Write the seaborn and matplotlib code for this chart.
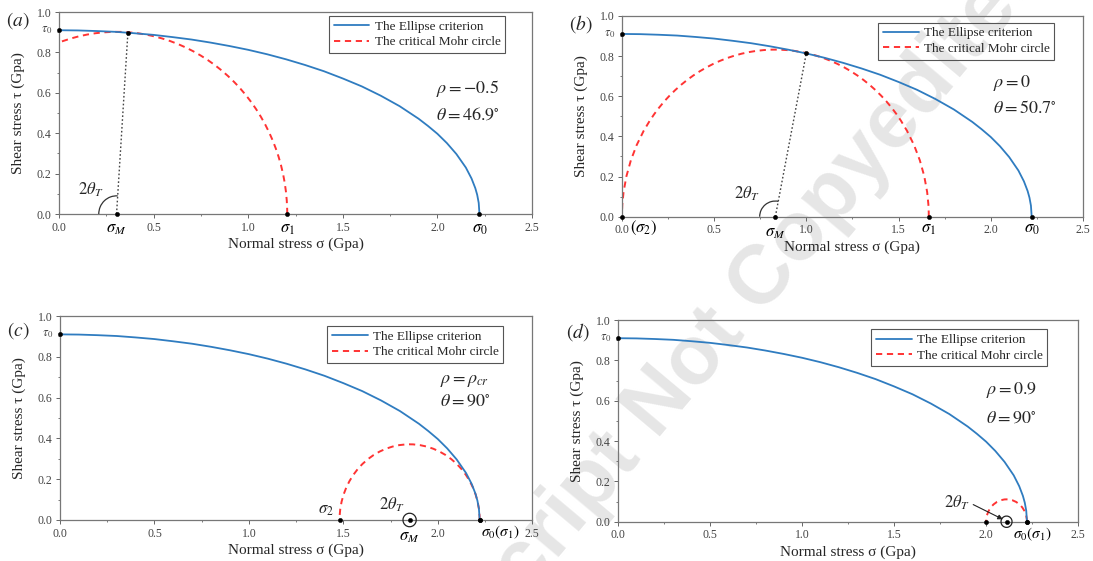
import numpy as np
import matplotlib
matplotlib.use("Agg")
import matplotlib.pyplot as plt
import seaborn as sns
from matplotlib.patches import Arc
from matplotlib.lines import Line2D

# ---------------- data ----------------
# Ellipse criterion (same curve in every panel)
ellipse_sigma = [0.0, 0.1, 0.2, 0.3, 0.4, 0.5, 0.6, 0.7, 0.8, 0.9, 1.0, 1.1, 1.2, 1.3,
                 1.4, 1.5, 1.6, 1.7, 1.8, 1.9, 1.95, 2.0, 2.05, 2.1, 2.15, 2.18, 2.2,
                 2.21, 2.218, 2.222]
ellipse_tau = [0.910, 0.909, 0.906, 0.902, 0.895, 0.887, 0.876, 0.864, 0.849, 0.832,
               0.813, 0.791, 0.766, 0.738, 0.707, 0.671, 0.632, 0.586, 0.534, 0.472,
               0.436, 0.397, 0.351, 0.297, 0.230, 0.176, 0.128, 0.095, 0.055, 0.0]
sigma0 = 2.222
tau0 = 0.91

panel_tags = [r"$(a)$", r"$(b)$", r"$(c)$", r"$(d)$"]
rho_texts = [r"$\rho = -0.5$", r"$\rho = 0$", r"$\rho = \rho_{cr}$", r"$\rho = 0.9$"]
theta_texts = [r"$\theta = 46.9^{\circ}$", r"$\theta = 50.7^{\circ}$",
               r"$\theta = 90^{\circ}$", r"$\theta = 90^{\circ}$"]

# critical Mohr circles: principal stresses
mohr_sigma1 = [1.206, 1.664, 2.222, 2.222]
mohr_sigma2 = [-0.598, 0.0, 1.48, 2.0]
# tangent points (panels a, b)
tangent_sigma = [0.364, 1.0, None, None]
tangent_tau = [0.898, 0.815, None, None]

x_ticks = [0.0, 0.5, 1.0, 1.5, 2.0, 2.5]
y_ticks = [0.0, 0.2, 0.4, 0.6, 0.8, 1.0]
legend_labels = ["The Ellipse criterion", "The critical Mohr circle"]
watermark = "Accepted Manuscript Not Copyedited"

BLUE = "#2f7cc0"
RED = "#ff3333"

# ---------------- style ----------------
sns.set_style("ticks")
plt.rcParams["font.family"] = ["Liberation Serif", "DejaVu Serif"]
plt.rcParams["mathtext.fontset"] = "stix"
plt.rcParams["axes.facecolor"] = "none"

fig = plt.figure(figsize=(10.93, 5.61), dpi=100)
fig.patch.set_facecolor("white")

positions = [
    [0.054, 0.6185, 0.4328, 0.360],
    [0.569, 0.6137, 0.4218, 0.358],
    [0.0549, 0.0731, 0.432, 0.3636],
    [0.5654, 0.070, 0.421, 0.3595],
]
legend_anchor = [(0.943, 0.98), (0.938, 0.967), (0.939, 0.951), (0.933, 0.954)]
text_pos = [(1.99, 0.62, 0.49), (2.01, 0.667, 0.54), (2.01, 0.683, 0.585), (2.0, 0.655, 0.514)]
tag_y = [0.96, 0.958, 0.93, 0.94]

# watermark
fig.text(0.512, 0.0695, watermark, rotation=50,
         rotation_mode="anchor", ha="center", va="center", fontsize=60,
         fontweight="bold", color="#e6e6e6", family="Liberation Sans", zorder=-10)


def below(ax, label, x, size=12, dy=-11):
    ax.annotate(label, xy=(x, 0), xycoords=("data", "axes fraction"),
                xytext=(0, dy), textcoords="offset points", ha="center",
                va="center", fontsize=size, color="black", annotation_clip=False)


for i, pos in enumerate(positions):
    ax = fig.add_axes(pos)
    ax.set_facecolor("none")
    # ellipse criterion
    sns.lineplot(x=ellipse_sigma, y=ellipse_tau, ax=ax, color=BLUE, lw=1.3,
                 sort=False, estimator=None, zorder=3)
    # critical Mohr circle
    s1, s2 = mohr_sigma1[i], mohr_sigma2[i]
    c, r = (s1 + s2) / 2, (s1 - s2) / 2
    ax.add_patch(Arc((c, 0), 2 * r, 2 * r, theta1=0, theta2=180, color=RED,
                     lw=1.4, linestyle=(0, (3.2, 2.4)), zorder=2))

    pts_x = [0.0, c, s1, sigma0]
    pts_y = [tau0, 0, 0, 0]
    if s2 >= 0:
        pts_x.append(s2)
        pts_y.append(0)
    if tangent_sigma[i] is not None:
        ts, tt = tangent_sigma[i], tangent_tau[i]
        ax.plot([c, ts], [0, tt], ls=(0, (1.2, 1.6)), color="#444444", lw=1.0, zorder=2)
        pts_x.append(ts)
        pts_y.append(tt)
        ang = np.degrees(np.arctan2(tt, ts - c))
        rx, ry = (0.094, 0.09) if i == 0 else (0.085, 0.078)
        ax.add_patch(Arc((c, 0), 2 * rx, 2 * ry, theta1=ang, theta2=180,
                         color="#333333", lw=0.9, zorder=4))
    sns.scatterplot(x=pts_x, y=pts_y, ax=ax, color="black", s=10, zorder=6,
                    clip_on=False, legend=False, edgecolor=None)

    ax.set_xlim(0, 2.5)
    ax.set_ylim(0, 1.0)
    ax.set_xticks(x_ticks)
    ax.set_yticks(y_ticks)
    ax.set_xticks(np.array(x_ticks[:-1]) + 0.25, minor=True)
    ax.set_yticks(np.array(y_ticks[:-1]) + 0.1, minor=True)
    ax.set_xticklabels([f"{v:.1f}" for v in x_ticks])
    ax.set_yticklabels([f"{v:.1f}" for v in y_ticks])
    ax.tick_params(which="major", direction="out", length=3, width=0.7,
                   color="#666666", labelsize=8.5, labelcolor="#444444", pad=2.5)
    ax.tick_params(which="minor", direction="out", length=1.6, width=0.6, color="#666666")
    ax.tick_params(top=False, right=False, which="both")
    for sp in ax.spines.values():
        sp.set_visible(True)
        sp.set_color("#777777")
        sp.set_linewidth(0.9)

    ax.set_xlabel("Normal stress σ (Gpa)", fontsize=11, labelpad=3)
    ax.set_ylabel("Shear stress τ (Gpa)", fontsize=11, labelpad=8)

    # tau0 marker label
    ax.annotate(r"$\tau_0$", xy=(0, tau0), xycoords="data", xytext=(-5, 0),
                textcoords="offset points", ha="right", va="center", fontsize=9,
                color="#444444", annotation_clip=False)
    # panel tag
    ax.text(-0.088, tag_y[i], panel_tags[i], transform=ax.transAxes, fontsize=14,
            ha="center", va="center")
    # rho / theta text
    tx, ry1, ry2 = text_pos[i]
    ax.text(tx, ry1, rho_texts[i], fontsize=13, ha="left", va="center")
    ax.text(tx, ry2, theta_texts[i], fontsize=13, ha="left", va="center")

    # stress labels on the axis
    if i == 0:
        below(ax, r"$\sigma_M$", c)
        below(ax, r"$\sigma_1$", s1)
        below(ax, r"$\sigma_0$", sigma0)
        ax.text(0.17, 0.118, r"$2\theta_T$", fontsize=12, ha="center", va="center")
    elif i == 1:
        below(ax, r"$(\sigma_2)$", 0.12, dy=-8)
        below(ax, r"$\sigma_M$", c, dy=-12)
        below(ax, r"$\sigma_1$", s1, dy=-9)
        below(ax, r"$\sigma_0$", sigma0, dy=-9)
        ax.text(0.68, 0.112, r"$2\theta_T$", fontsize=12, ha="center", va="center")
    elif i == 2:
        ax.text(s2 - 0.07, 0.05, r"$\sigma_2$", fontsize=12, ha="center", va="center")
        below(ax, r"$\sigma_M$", c, dy=-12)
        below(ax, r"$\sigma_0(\sigma_1)$", 2.33, size=11, dy=-9)
        ax.add_patch(Arc((c, 0), 0.07, 0.066, theta1=0, theta2=360, color="#222222",
                         lw=0.9, clip_on=False, zorder=5))
        ax.text(1.755, 0.075, r"$2\theta_T$", fontsize=12, ha="center", va="center")
    else:
        below(ax, r"$\sigma_0(\sigma_1)$", 2.25, size=11, dy=-9)
        ax.add_patch(Arc((c, 0), 0.06, 0.056, theta1=0, theta2=360, color="#222222",
                         lw=0.9, clip_on=False, zorder=5))
        ax.text(1.84, 0.095, r"$2\theta_T$", fontsize=12, ha="center", va="center")
        ax.annotate("", xy=(c - 0.02, 0.012), xytext=(1.93, 0.085),
                    arrowprops=dict(arrowstyle="-|>", color="#222222", lw=0.8,
                                    mutation_scale=7, shrinkA=0, shrinkB=0))

    handles = [Line2D([], [], color=BLUE, lw=1.3),
               Line2D([], [], color=RED, lw=1.4, linestyle=(0, (3.2, 2.4)))]
    leg = ax.legend(handles, legend_labels, loc="upper right",
                    bbox_to_anchor=legend_anchor[i], borderaxespad=0, fancybox=False,
                    frameon=True, framealpha=1, edgecolor="#555555", fontsize=9.5,
                    handlelength=2.7, handletextpad=0.4, borderpad=0.35,
                    labelspacing=0.25)
    leg.get_frame().set_linewidth(0.8)

fig.savefig("out.png", dpi=100)
